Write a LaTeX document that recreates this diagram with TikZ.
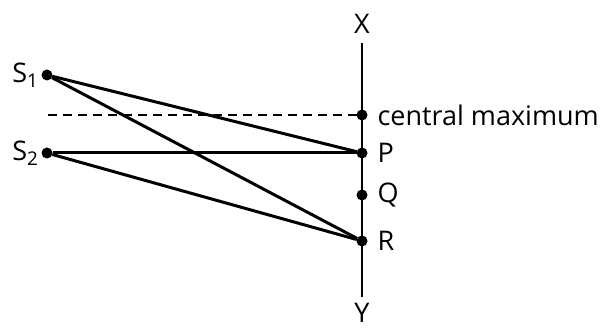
\documentclass[tikz,border=0pt]{standalone}
\usepackage{fontspec}
\setmainfont{Open Sans}
\usetikzlibrary{positioning}
\begin{document}
\begin{tikzpicture}[x=1pt,y=-1pt,node distance=4pt,every node/.style={inner sep=1,outer sep=1,font=\fontsize{27}{30}\selectfont},dot/.style={circle,fill,inner sep=0pt,outer sep=0pt,minimum size=11pt}]
	\useasboundingbox (0,0) rectangle (608,331);
	\node[dot] (s1) at (47,75) {};
	\node[dot] (s2) at (47,153) {};
	\node[dot] (c) at (362,115) {};
	\node[dot] (p) at (362,153) {};
	\node[dot] (q) at (362,195) {};
	\node[dot] (r) at (362,241) {};
	\coordinate (top) at (362,43);
	\coordinate (bot) at (362,297);
	\coordinate (d) at (48,115);
	\node (x) [above=7pt of top] {X};
	\node (y) [below=4pt of bot] {Y};
	\node (l1) [left=1pt of s1] {S\textsubscript{1}};
	\node (l2) [left=1pt of s2] {S\textsubscript{2}};
	\node (lc) [right=8pt of c] {central maximum};
	\node (lp) [right=8pt of p] {P};
	\node (lq) [right=8pt of q] {Q};
	\node (lr) [right=8pt of r] {R};
	\draw[line width=1.8pt] (top) -- (bot);
	\draw[line width=1.2pt,dash pattern=on 9pt off 6pt] (d) -- (c);
    \path[line width=3pt]
        (s1) edge (p)
        (s1) edge (r)
        (s2) edge (p)
        (s2) edge (r);
\end{tikzpicture}
\end{document}
